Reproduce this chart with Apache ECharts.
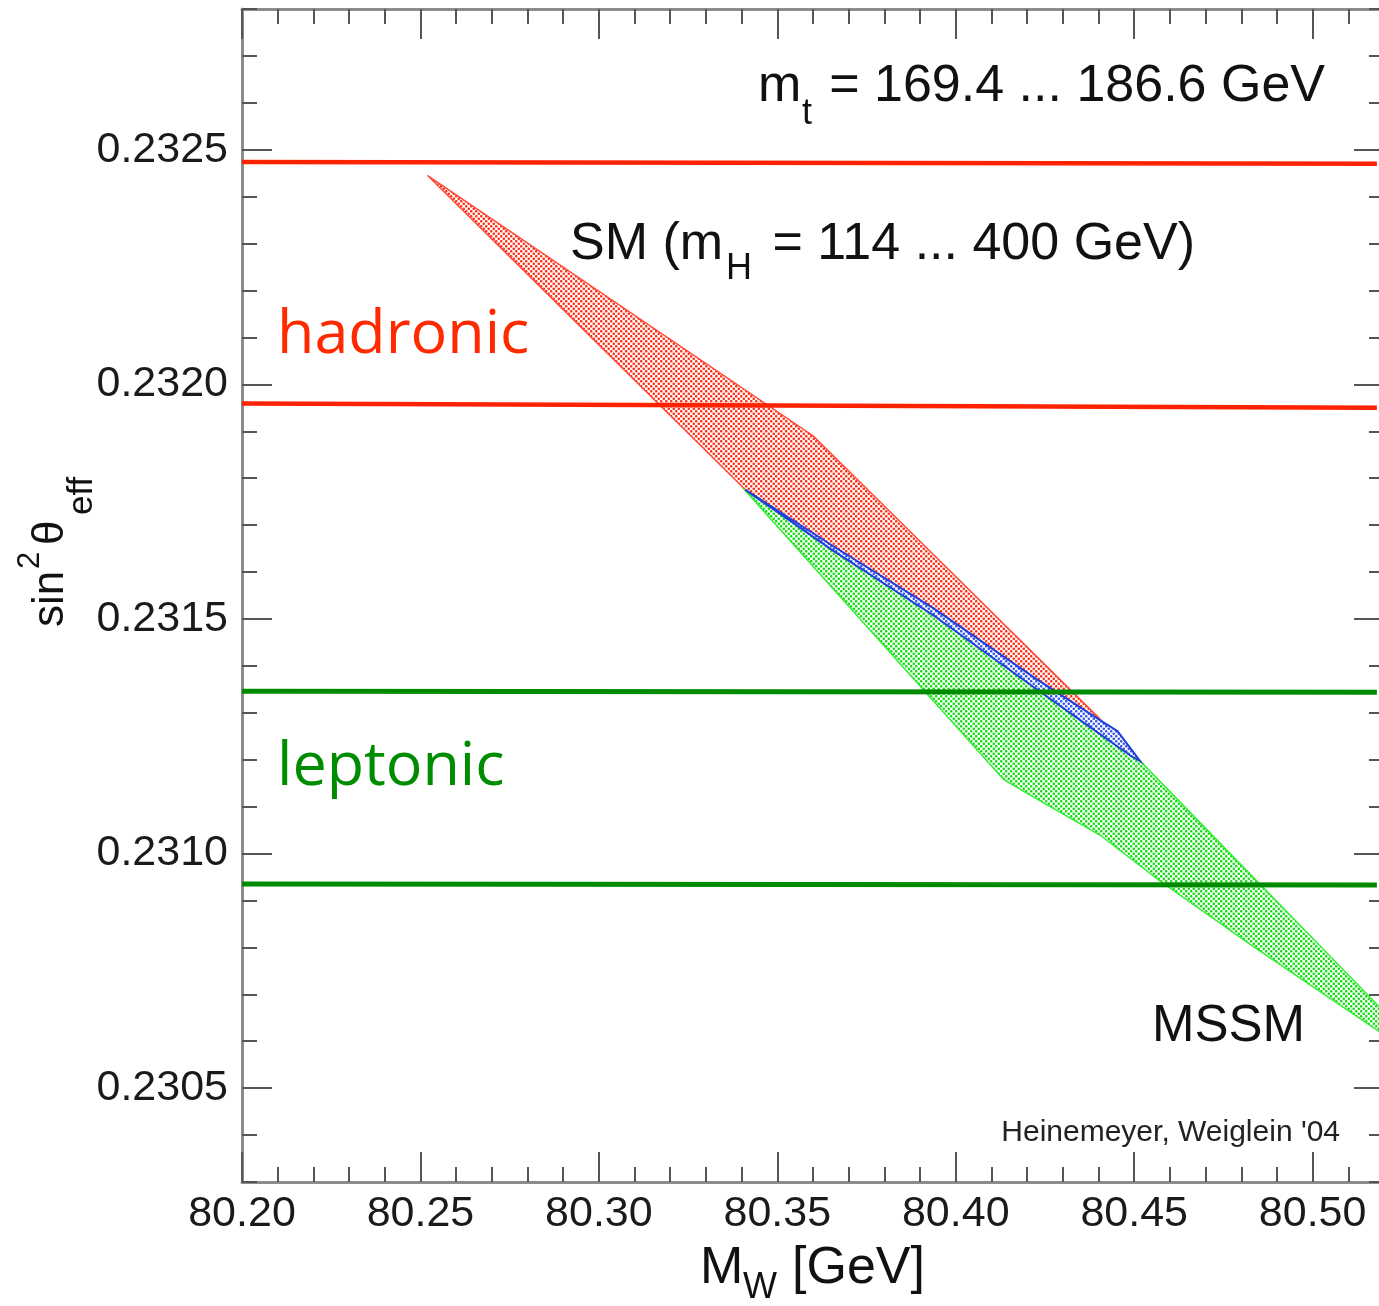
<!DOCTYPE html>
<html><head><meta charset="utf-8">
<script src="https://cdn.jsdelivr.net/npm/echarts@6/dist/echarts.min.js"></script>
<style>html,body{margin:0;padding:0;background:#fff}#c{width:1379px;height:1306px}</style>
</head><body><div id="c"></div><script>
// ---- data ----
const xTicks = [80.20, 80.25, 80.30, 80.35, 80.40, 80.45, 80.50];
const xMinorTicks = [80.20,80.21,80.22,80.23,80.24,80.25,80.26,80.27,80.28,80.29,80.30,80.31,80.32,80.33,80.34,80.35,80.36,80.37,80.38,80.39,80.40,80.41,80.42,80.43,80.44,80.45,80.46,80.47,80.48,80.49,80.50,80.51,80.52];
const yTicks = [0.2305, 0.2310, 0.2315, 0.2320, 0.2325];
const yMinorTicks = [0.2303,0.2304,0.2305,0.2306,0.2307,0.2308,0.2309,0.2310,0.2311,0.2312,0.2313,0.2314,0.2315,0.2316,0.2317,0.2318,0.2319,0.2320,0.2321,0.2322,0.2323,0.2324,0.2325,0.2326,0.2327,0.2328];
const bandX = [80.20, 80.518];
const hadronicUpper = [0.232474, 0.232470];
const hadronicLower = [0.231959, 0.231950];
const leptonicUpper = [0.231346, 0.231344];
const leptonicLower = [0.230935, 0.230933];
const smRegion = [[80.2520,0.232445],[80.3601,0.231890],[80.4405,0.231286],[80.4489,0.231211],[80.3411,0.231775]];
const mssmRegion = [[80.3411,0.231773],[80.3657,0.231649],[80.3937,0.231515],[80.4218,0.231365],[80.4405,0.231269],[80.4517,0.231197],[80.52,0.230663],[80.52,0.230614],[80.4826,0.230806],[80.4573,0.230941],[80.4405,0.231039],[80.4181,0.231137],[80.4134,0.231158]];
const overlapRegion = [[80.3411,0.231775],[80.3657,0.231655],[80.3937,0.231523],[80.4218,0.231376],[80.4405,0.231284],[80.4453,0.231261],[80.4517,0.231197],[80.4489,0.231209],[80.4405,0.231254],[80.4218,0.231355],[80.3937,0.231508],[80.3657,0.231645]];

// ---- styling helpers ----
function dots(color){
  const c=document.createElement('canvas'); c.width=5; c.height=5;
  const g=c.getContext('2d'); g.fillStyle='#fff'; g.fillRect(0,0,5,5);
  g.fillStyle=color; g.beginPath(); g.arc(1.25,1.25,1.3,0,Math.PI*2); g.fill();
  g.beginPath(); g.arc(3.75,3.75,1.3,0,Math.PI*2); g.fill();
  return {image:c, repeat:'repeat'};
}
const FONT='"Liberation Sans", Arial, Helvetica, sans-serif';
const AXC='#8c8c8c', TKC='#555';
function xAx(pos, ticks, len, line, label){
  return {type:'value', min:80.20, max:80.52, position:pos, gridIndex:0,
    axisLine:{show:line, lineStyle:{color:AXC, width:3}},
    axisTick:{show:true, inside:true, length:len, customValues:ticks, lineStyle:{color:TKC, width:2}},
    axisLabel:{show:label, customValues:xTicks, formatter:v=>v.toFixed(2), fontSize:43, fontFamily:FONT, color:'#1a1a1a', margin:11},
    splitLine:{show:false}, minorTick:{show:false}};
}
function yAx(pos, ticks, len, line, label){
  return {type:'value', min:0.2303, max:0.2328, position:pos, gridIndex:0,
    axisLine:{show:line, lineStyle:{color:AXC, width:3}},
    axisTick:{show:true, inside:true, length:len, customValues:ticks, lineStyle:{color:TKC, width:2}},
    axisLabel:{show:label, customValues:yTicks, formatter:v=>v.toFixed(4), fontSize:43, fontFamily:FONT, color:'#1a1a1a', margin:14},
    splitLine:{show:false}, minorTick:{show:false}};
}
function poly(pts, fill, stroke, lw, z){
  return {type:'custom', data:pts, encode:{x:0,y:1}, silent:true, z:z, clip:true,
    renderItem:(params, api)=>{
      if(params.dataIndex!==0) return;
      const points=pts.map(p=>api.coord(p));
      return {type:'polygon', shape:{points:points}, style:{fill:fill, stroke:stroke, lineWidth:lw}};
    }};
}
function hline(vals, color, w){
  return {type:'line', data:[[bandX[0],vals[0]],[bandX[1],vals[1]]], showSymbol:false, silent:true, z:5,
    lineStyle:{color:color, width:w}};
}
function txt(s, x, base, fs, align, color, family, k){
  return {type:'text', x:x, y:base-(k||0.3465)*fs, z:100,
    style:{text:s, font:fs+'px '+(family||FONT), fill:color||'#111', align:align||'left', textAlign:align||'left', verticalAlign:'middle', textVerticalAlign:'middle'}};
}
const OS='"Open Sans", sans-serif';
const chart=echarts.init(document.getElementById('c'), null, {renderer:'canvas'});
chart.setOption({
  animation:false, backgroundColor:'#fff',
  grid:{left:242, right:-5, top:9, bottom:124, outerBoundsMode:'none', containLabel:false},
  xAxis:[xAx('bottom', xTicks, 30, true, true), xAx('top', xTicks, 30, true, false), xAx('bottom', xMinorTicks, 15, false, false), xAx('top', xMinorTicks, 15, false, false)],
  yAxis:[yAx('left', yTicks, 30, true, true), yAx('right', yTicks, 30, true, false), yAx('left', yMinorTicks, 15, false, false), yAx('right', yMinorTicks, 15, false, false)],
  series:[
    poly(smRegion, dots('#ff3018'), '#ff4a38', 1.5, 2),
    poly(mssmRegion, dots('#12dd12'), '#33ee33', 1.5, 3),
    poly(overlapRegion, dots('#3355ee'), '#2240dd', 2, 4),
    hline(hadronicUpper, '#ff2200', 4.5),
    hline(hadronicLower, '#ff2200', 4.5),
    hline(leptonicUpper, '#008a00', 5),
    hline(leptonicLower, '#008a00', 5)
  ],
  graphic:[
    txt('m', 758, 105, 52),
    txt('t', 802, 127, 36),
    txt('= 169.4 ... 186.6 GeV', 1325, 105, 52, 'right'),
    txt('SM (m', 570, 263, 52),
    txt('H', 726, 282, 36),
    txt('= 114 ... 400 GeV)', 1195, 263, 52, 'right'),
    txt('hadronic', 277, 359, 61, 'left', '#ff2a00', OS, 0.388),
    txt('leptonic', 277, 791, 61, 'left', '#008c00', OS, 0.388),
    txt('MSSM', 1305, 1045, 51, 'right'),
    txt('Heinemeyer, Weiglein \'04', 1340, 1143, 30, 'right', '#222'),
    txt('M', 700, 1287, 52),
    txt('W', 743, 1301, 36),
    txt('[GeV]', 925, 1287, 52, 'right'),
    {type:'group', x:66, y:627, rotation:Math.PI/2, children:[
      txt('sin', 0, 0, 44),
      txt('2', 58, -25, 31),
      txt('θ', 82, 0, 44),
      txt('eff', 112, 28, 35)
    ]}
  ]
});
</script></body></html>
